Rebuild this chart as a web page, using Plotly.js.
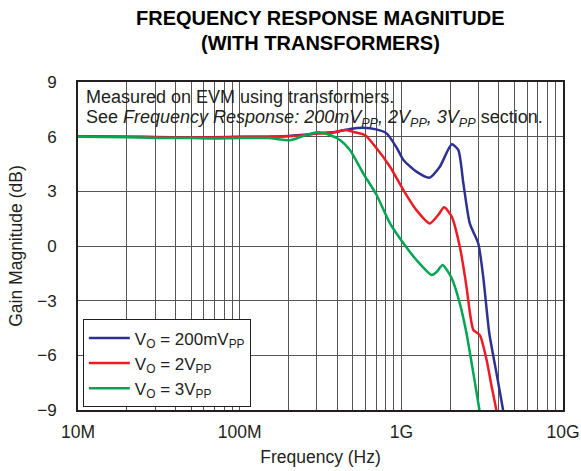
<!DOCTYPE html>
<html>
<head>
<meta charset="utf-8">
<script src="https://cdn.plot.ly/plotly-3.0.1.min.js"></script>
<style>html,body{margin:0;padding:0;background:#fff;}#chart{width:581px;height:471px;}</style>
</head>
<body>
<div id="chart"></div>
<script>
// Frequency (Hz) and gain (dB) per series
const freq200mV = [1e7, 2e7, 3e7, 5e7, 7e7, 1e8, 1.5e8, 2e8, 2.5e8, 3e8, 4e8, 4.8e8, 5.8e8, 7e8, 8.1e8, 9.35e8, 1.03e9, 1.24e9, 1.49e9, 1.73e9, 2.05e9, 2.25e9, 2.42e9, 2.65e9, 2.99e9, 3.21e9, 3.5e9, 3.88e9, 4.24e9, 4.35e9];
const gain200mV = [6.02, 6.0, 5.98, 5.97, 5.97, 6.0, 6.0, 6.04, 6.1, 6.18, 6.27, 6.42, 6.49, 6.40, 6.18, 5.4, 4.72, 4.08, 3.75, 4.35, 5.58, 5.27, 3.44, 1.24, 0.15, -1.69, -4.79, -6.99, -8.9, -9.6];

const freq2V = [1e7, 2e7, 3e7, 5e7, 7e7, 1e8, 1.5e8, 2e8, 2.5e8, 3e8, 3.6e8, 4.48e8, 5.05e8, 5.96e8, 7.03e8, 8.51e8, 1.03e9, 1.24e9, 1.5e9, 1.69e9, 1.84e9, 2.05e9, 2.3e9, 2.53e9, 2.66e9, 2.79e9, 3.06e9, 3.37e9, 3.62e9, 3.85e9, 3.95e9];
const gain2V = [6.02, 6.0, 5.97, 5.95, 5.95, 5.98, 6.0, 6.02, 6.08, 6.18, 6.18, 6.37, 6.26, 6.09, 5.36, 4.35, 3.07, 1.97, 1.24, 1.70, 2.12, 1.61, -0.04, -2.24, -3.7, -4.61, -4.89, -6.26, -7.72, -8.9, -9.5];

const freq3V = [1e7, 2e7, 3e7, 5e7, 7e7, 1e8, 1.5e8, 2.05e8, 2.47e8, 3.06e8, 3.61e8, 4.17e8, 4.81e8, 5.81e8, 7.03e8, 8.51e8, 1.03e9, 1.24e9, 1.54e9, 1.66e9, 1.8e9, 2.05e9, 2.3e9, 2.53e9, 2.79e9, 3.03e9, 3.1e9];
const gain3V = [6.0, 5.97, 5.93, 5.92, 5.9, 5.93, 5.92, 5.80, 6.04, 6.24, 6.09, 5.82, 5.27, 3.99, 2.80, 1.24, 0.15, -0.77, -1.59, -1.41, -1.04, -1.77, -3.15, -4.79, -6.99, -8.91, -9.5];

const seriesNames = ['V<sub>O</sub> = 200mV<sub>PP</sub>', 'V<sub>O</sub> = 2V<sub>PP</sub>', 'V<sub>O</sub> = 3V<sub>PP</sub>'];
const seriesColors = ['#2e3192', '#ed1c24', '#00a651'];

const xTickVals = [1e7,2e7,3e7,4e7,5e7,6e7,7e7,8e7,9e7,1e8,2e8,3e8,4e8,5e8,6e8,7e8,8e8,9e8,1e9,2e9,3e9,4e9,5e9,6e9,7e9,8e9,9e9,1e10];
const xTickText = xTickVals.map(v => ({1e7:'10M',1e8:'100M',1e9:'1G',1e10:'10G'})[v] || '');
const yTickVals = [-9, -6, -3, 0, 3, 6, 9];

const font = 'Liberation Sans, Arial, sans-serif';
const txt = '#231f20';

const data = [
  {x: freq200mV, y: gain200mV, name: seriesNames[0]},
  {x: freq2V, y: gain2V, name: seriesNames[1]},
  {x: freq3V, y: gain3V, name: seriesNames[2]}
].map((t, i) => Object.assign(t, {
  type: 'scatter', mode: 'lines',
  line: {color: seriesColors[i], width: 2.5, shape: 'spline', smoothing: 0.6},
  cliponaxis: true
}));

const layout = {
  width: 581, height: 471,
  margin: {l: 78, r: 18, t: 82, b: 61},
  paper_bgcolor: '#fff', plot_bgcolor: '#fff',
  font: {family: font, size: 17, color: txt},
  showlegend: true,
  legend: {
    x: 0.01, y: 0.008, xanchor: 'left', yanchor: 'bottom',
    bgcolor: '#fff', bordercolor: '#231f20', borderwidth: 1,
    font: {family: font, size: 17, color: txt},
    tracegroupgap: 0, itemwidth: 41
  },
  xaxis: {
    type: 'log', range: [7, 10],
    tickmode: 'array', tickvals: xTickVals, ticktext: xTickText,
    showgrid: true, gridcolor: '#555', gridwidth: 1,
    showline: true, linecolor: '#231f20', linewidth: 2, mirror: true,
    ticks: '', ticklabelstandoff: 5,
    zeroline: false,
    tickfont: {family: font, size: 17.5, color: txt},
    title: {text: 'Frequency (Hz)', font: {family: font, size: 17.5, color: txt}, standoff: 10}
  },
  yaxis: {
    range: [-9, 9],
    tickmode: 'array', tickvals: yTickVals,
    ticktext: yTickVals.map(v => v < 0 ? '\u2212' + Math.abs(v) : String(v)),
    showgrid: true, gridcolor: '#555', gridwidth: 1,
    showline: true, linecolor: '#231f20', linewidth: 2, mirror: true,
    ticks: '', ticklabelstandoff: 16,
    zeroline: false,
    tickfont: {family: font, size: 17, color: txt},
    title: {text: 'Gain Magnitude (dB)', font: {family: font, size: 17.5, color: txt}, standoff: 10}
  },
  shapes: [{
    type: 'rect', layer: 'between', xref: 'paper', yref: 'y',
    x0: 0, x1: 1, y0: 6.35, y1: 9,
    fillcolor: '#fff', line: {width: 0}
  }],
  annotations: [
    {text: '<b>FREQUENCY RESPONSE MAGNITUDE</b>', xref: 'paper', yref: 'paper', x: 0.5, y: 1 + 64/328, xanchor: 'center', yanchor: 'middle', showarrow: false, font: {family: font, size: 20, color: '#000'}},
    {text: '<b>(WITH TRANSFORMERS)</b>', xref: 'paper', yref: 'paper', x: 0.5, y: 1 + 39/328, xanchor: 'center', yanchor: 'middle', showarrow: false, font: {family: font, size: 20, color: '#000'}},
    {text: 'Measured on EVM using transformers.', xref: 'paper', yref: 'paper', x: 6/485, y: 1 - 15/328, xanchor: 'left', yanchor: 'middle', showarrow: false, font: {family: font, size: 18, color: txt}},
    {text: 'See <i>Frequency Response: 200mV<sub>PP</sub>, 2V<sub>PP</sub>, 3V<sub>PP</sub></i> section.', xref: 'paper', yref: 'paper', x: 6/485, y: 1 - 36/328, xanchor: 'left', yanchor: 'middle', showarrow: false, font: {family: font, size: 18, color: txt}}
  ]
};

Plotly.newPlot('chart', data, layout, {displayModeBar: false, staticPlot: true});
</script>
</body>
</html>
